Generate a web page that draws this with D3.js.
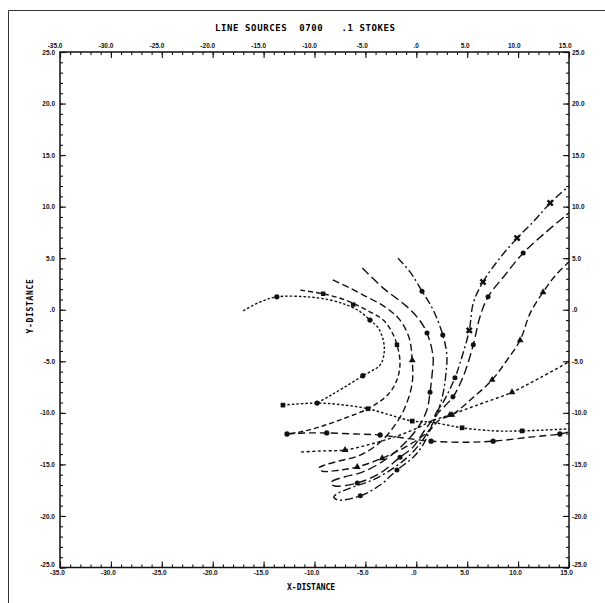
<!DOCTYPE html>
<html>
<head>
<meta charset="utf-8">
<script src="https://d3js.org/d3.v7.min.js"></script>
<style>
  body { margin: 0; background: white; }
  svg { font-family: 'DejaVu Sans Mono', monospace; font-weight: bold; }
  .tick text { font-size: 6.5px; fill: #111; }
</style>
</head>
<body>
<svg id="chart" width="605" height="603"></svg>
<script>
// axis ticks
const xTicks = [-35, -30, -25, -20, -15, -10, -5, 0, 5, 10, 15];
const yTicks = [-25, -20, -15, -10, -5, 0, 5, 10, 15, 20, 25];

// trajectories (x-distance, y-distance)
const curveA = [[-17.0,-0.1],[-15.35,0.75],[-13.7,1.25],[-10.75,1.25],[-8.5,0.95],[-6.8,0.45],[-5.5,-0.2],[-4.55,-1.0],
  [-3.75,-1.75],[-3.25,-2.95],[-3.15,-4.1],[-3.55,-5.35],[-5.25,-6.4],[-7.2,-7.6],[-8.5,-8.35],[-9.75,-9.05]];
const markA = [[-13.7,1.25],[-4.55,-1.0],[-5.25,-6.4],[-9.75,-9.05]];

const curveD = [[-13.1,-9.25],[-9.75,-9.05],[-7.0,-9.25],[-4.75,-9.6],[-2.6,-10.2],[-0.4,-10.8],[1.45,-10.9],
  [4.5,-11.45],[7.75,-11.75],[10.4,-11.75],[15.0,-11.55]];
const markD = [[-13.1,-9.25],[-4.75,-9.6],[-0.4,-10.8],[4.5,-11.45],[10.4,-11.75]];

const curveU2 = [[-11.4,1.9],[-9.15,1.55],[-7.0,0.95],[-5.05,0.05],[-3.25,-1.0],[-2.4,-2.15],[-1.9,-3.4],[-1.6,-5.15],
  [-1.9,-6.8],[-2.8,-8.25],[-4.75,-9.6],[-7.0,-10.5],[-9.45,-11.35],[-11.4,-11.85],[-12.7,-12.05]];
const markU2 = [[-9.15,1.55],[-6.2,0.5],[-1.9,-3.4]];

const curveL3 = [[-12.7,-12.05],[-10.75,-11.95],[-8.8,-11.95],[-6.0,-12.05],[-3.55,-12.15],[-1.1,-12.45],[1.45,-12.75],
  [4.5,-12.85],[7.55,-12.75],[11.2,-12.35],[14.1,-12.05],[15.0,-11.85]];
const markL3 = [[-12.7,-12.05],[-8.8,-11.95],[-3.55,-12.15],[1.45,-12.75],[7.55,-12.75],[14.1,-12.05]];

const curve3 = [[-8.2,2.9],[-6.7,2.2],[-5.25,1.45],[-3.05,0.25],[-1.6,-1.0],[-0.7,-2.75],[-0.4,-4.9],[-0.4,-7.1],
  [-1.1,-9.45],[-2.1,-11.2],[-3.55,-12.85],[-5.5,-14.1],[-7.5,-14.65],[-8.95,-15.05],[-9.55,-15.35],[-9.25,-15.65],
  [-7.5,-15.55],[-5.8,-15.25],[-3.35,-14.4],[-1.6,-13.6],[0.05,-12.65],[1.35,-11.65],[2.3,-10.65],[3.5,-10.2],
  [5.3,-8.75],[7.45,-6.8],[8.9,-4.9],[10.2,-2.95],[11.2,-0.3],[12.45,1.7],[13.6,3.25],[15.0,4.65]];
const mark3 = [[-0.4,-4.9],[-5.8,-15.25],[-3.35,-14.4],[3.5,-10.2],[7.45,-6.8],[10.2,-2.95],[12.45,1.7]];

const curve4 = [[-5.3,4.05],[-3.25,2.1],[-1.1,0.45],[0.15,-0.8],[1.05,-2.25],[1.65,-4.6],[1.55,-6.3],[1.35,-8.0],
  [1.05,-9.7],[0.15,-11.45],[-1.1,-12.9],[-3.05,-14.55],[-5.3,-15.75],[-7.0,-16.2],[-8.2,-16.6],[-8.4,-16.85],
  [-8.0,-17.1],[-5.8,-16.8],[-3.55,-15.85],[-1.6,-14.3],[-0.3,-13.3],[0.85,-11.65],[2.15,-10.0],[3.6,-8.45],
  [4.6,-6.5],[5.6,-3.4],[6.25,-0.7],[7.05,1.25],[8.7,3.35],[10.5,5.5],[12.65,7.45],[15.0,9.4]];
const mark4 = [[1.05,-2.25],[1.35,-8.0],[-5.8,-16.8],[-1.6,-14.3],[3.6,-8.45],[5.6,-3.4],[7.05,1.25],[10.5,5.5]];

const curve5 = [[-1.8,5.0],[-0.6,3.65],[0.56,1.8],[1.65,0.0],[2.6,-2.45],[3.0,-4.4],[2.9,-6.3],[2.6,-8.25],
  [2.0,-10.2],[1.15,-11.85],[-0.15,-13.6],[-1.8,-15.05],[-4.05,-16.4],[-6.5,-17.3],[-7.8,-17.85],[-8.1,-18.15],
  [-7.7,-18.45],[-5.5,-18.05],[-3.55,-17.0],[-1.9,-15.55],[-0.3,-14.3],[0.66,-13.1],[1.35,-11.65],[1.95,-10.0],
  [2.6,-9.05],[3.8,-6.6],[4.3,-5.15],[5.2,-2.0],[5.6,0.65],[6.55,2.7],[8.2,5.0],[9.9,6.95],[11.65,8.7],[13.15,10.35],[15.0,12.0]];
const mark5 = [[0.56,1.8],[2.6,-2.45],[-5.5,-18.05],[-1.9,-15.55],[3.8,-6.6]];
const mark5x = [[5.2,-2.0],[6.55,2.7],[9.9,6.95],[13.15,10.35]];

const curveE = [[-11.3,-13.8],[-9.45,-13.7],[-7.0,-13.6],[-4.35,-13.0],[-1.6,-12.15],[0.36,-11.35],[1.45,-10.8],
  [3.3,-10.2],[6.25,-9.15],[9.4,-8.0],[12.15,-6.6],[15.0,-5.05]];
const markE = [[-7.0,-13.6],[3.3,-10.2],[9.4,-8.0]];

const svg = d3.select("#chart");
const x = d3.scaleLinear().domain([-35, 15]).range([60, 569]);
const y = d3.scaleLinear().domain([-25, 25]).range([567.5, 52]);
const fmt = d => d === 0 ? ".0" : d.toFixed(1);

// page frame
svg.append("line").attr("x1", 8.5).attr("y1", 10.5).attr("x2", 605).attr("y2", 10.5)
  .attr("stroke", "#333").attr("stroke-width", 1);
svg.append("line").attr("x1", 8.5).attr("y1", 10.5).attr("x2", 8.5).attr("y2", 603)
  .attr("stroke", "#333").attr("stroke-width", 1);

// title
svg.append("text").attr("x", 215).attr("y", 31).attr("font-size", 9).attr("letter-spacing", 0.6)
  .style("white-space", "pre").text("LINE SOURCES  0700   .1 STOKES");

// axes: minor ticks every unit, major ticks labelled
const minorX = d3.range(-35, 16, 1), minorY = d3.range(-25, 26, 1);
function axes(g, axis, scale, minor, major, pad) {
  g.call(axis(scale).tickValues(minor).tickSizeInner(-3).tickSizeOuter(0).tickFormat(""));
  g.append("g").call(axis(scale).tickValues(major).tickSizeInner(-6).tickSizeOuter(0).tickPadding(pad).tickFormat(fmt));
  g.selectAll(".domain").remove();
  g.selectAll("line").attr("stroke", "#111").attr("stroke-width", 1.1);
}
const gTop = svg.append("g").attr("transform", `translate(0,${y(25)})`);
axes(gTop, d3.axisTop, x, minorX, xTicks, 4);
gTop.selectAll("text").attr("text-anchor", "end").attr("x", 2);
const gBot = svg.append("g").attr("transform", `translate(0,${y(-25)})`);
axes(gBot, d3.axisBottom, x, minorX, xTicks, 3);
gBot.selectAll("text").attr("x", -3);
const gLeft = svg.append("g").attr("transform", `translate(${x(-35)},0)`);
axes(gLeft, d3.axisLeft, y, minorY, yTicks, 5);
const gRight = svg.append("g").attr("transform", `translate(${x(15)},0)`);
axes(gRight, d3.axisRight, y, minorY, yTicks, 3);
// corner labels sit just above the bottom x labels, as on the plotter output
gLeft.selectAll(".tick text").filter(d => d === -25).attr("dy", "-0.1em");
gRight.selectAll(".tick text").filter(d => d === -25).attr("dy", "-0.1em");

svg.append("rect").attr("x", x(-35)).attr("y", y(25))
  .attr("width", x(15) - x(-35)).attr("height", y(-25) - y(25))
  .attr("fill", "none").attr("stroke", "#111").attr("stroke-width", 1.5);

// axis titles
svg.append("text").attr("x", 287).attr("y", 590).attr("font-size", 8).text("X-DISTANCE");
svg.append("text").attr("transform", "translate(32.5,306) rotate(-90)").attr("text-anchor", "middle")
  .attr("font-size", 8).attr("letter-spacing", 0.7).text("Y-DISTANCE");

// trajectories
svg.append("clipPath").attr("id", "plot").append("rect")
  .attr("x", x(-35)).attr("y", y(25)).attr("width", x(15) - x(-35)).attr("height", y(-25) - y(25));
const line = d3.line().x(d => x(d[0])).y(d => y(d[1])).curve(d3.curveCatmullRom.alpha(0.5));
const traces = [
  { pts: curveA, dash: "2.5,2" },
  { pts: curveD, dash: "2.5,2" },
  { pts: curveE, dash: "3,2.5" },
  { pts: curveU2, dash: "5,3" },
  { pts: curveL3, dash: "7,4" },
  { pts: curve3, dash: "7,3.5" },
  { pts: curve4, dash: "9,4" },
  { pts: curve5, dash: "8,3,2,3" }
];
svg.append("g").attr("clip-path", "url(#plot)")
  .selectAll("path").data(traces).join("path")
  .attr("d", d => line(d.pts))
  .attr("fill", "none").attr("stroke", "#111").attr("stroke-width", 1.4)
  .attr("stroke-dasharray", d => d.dash);

const markers = [
  { pts: markA, sym: d3.symbolCircle, size: 22, rot: 0 },
  { pts: markD, sym: d3.symbolSquare, size: 22, rot: 0 },
  { pts: markE, sym: d3.symbolTriangle, size: 20, rot: 0 },
  { pts: markU2, sym: d3.symbolSquare, size: 20, rot: 0 },
  { pts: markL3, sym: d3.symbolCircle, size: 22, rot: 0 },
  { pts: mark3, sym: d3.symbolTriangle, size: 20, rot: 0 },
  { pts: mark4, sym: d3.symbolCircle, size: 20, rot: 0 },
  { pts: mark5, sym: d3.symbolCircle, size: 20, rot: 0 },
  { pts: mark5x, sym: d3.symbolCross, size: 30, rot: 45 }
];
const gm = svg.append("g");
markers.forEach(m => {
  gm.selectAll(null).data(m.pts).join("path")
    .attr("transform", d => `translate(${x(d[0])},${y(d[1])}) rotate(${m.rot})`)
    .attr("d", d3.symbol().type(m.sym).size(m.size))
    .attr("fill", "#111");
});
</script>
</body>
</html>
